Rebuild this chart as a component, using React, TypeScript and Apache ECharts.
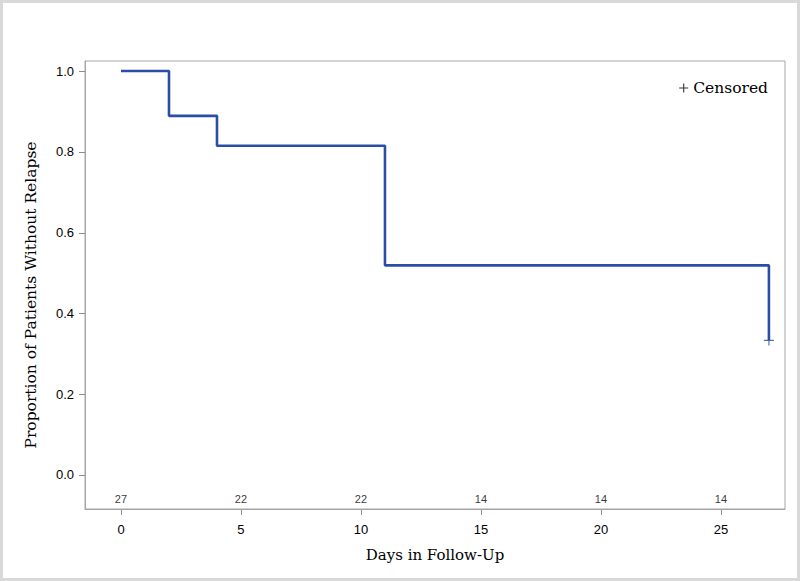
import React, { useEffect, useRef } from "react";
import * as echarts from "echarts";

const eventTimes = [0, 2, 4, 11, 27];
const survival = [1.0, 0.889, 0.815, 0.519, 0.333];
const censoredTimes = [27];
const censoredSurvival = [0.333];
const atRiskTimes = [0, 5, 10, 15, 20, 25];
const atRiskCounts = [27, 22, 22, 14, 14, 14];
const xTicks = [0, 5, 10, 15, 20, 25];
const yTicks = [0, 0.2, 0.4, 0.6, 0.8, 1.0];
const yTitle = "Proportion of Patients Without Relapse";

const BLUE = "#2a4ea6";
const GRAY = "#a6a6a6";
const TICK = "#8c8c8c";
const SERIF = "'DejaVu Serif', serif";
const SANS = "'Liberation Sans', Arial, sans-serif";
const PLUS = "path://M-1,-0.12H1V0.12H-1Z M-0.12,-1H0.12V1H-0.12Z";

const X_MIN = -1.5;
const X_MAX = 27.67;
const Y_MIN = -0.0842;
const Y_MAX = 1.0248;
const TICK_LEN = 6;

export default function App() {
  const ref = useRef<HTMLDivElement>(null);
  useEffect(() => {
    document.body.style.margin = "0";
    const chart = echarts.init(ref.current!, null, { renderer: "svg" });
    const atRiskY = -0.06;
    const baseGraphic: any[] = [
      {
        type: "rect",
        shape: { x: 1.5, y: 1.5, width: 797, height: 578 },
        style: { fill: "none", stroke: "#d9d9d9", lineWidth: 3 },
        silent: true,
      },
      {
        type: "text",
        x: 31,
        y: 295,
        rotation: Math.PI / 2,
        silent: true,
        style: {
          text: yTitle,
          fontFamily: SERIF,
          fontSize: 15.5,
          fill: "#000",
          align: "center",
          verticalAlign: "middle",
        },
      },
    ];
    chart.setOption({
      animation: false,
      backgroundColor: "#ffffff",
      grid: {
        left: 85,
        top: 61,
        right: 15,
        bottom: 72,
        show: true,
        borderColor: GRAY,
        borderWidth: 1,
        containLabel: false,
      },
      graphic: baseGraphic,
      legend: {
        right: 27,
        top: 75,
        itemWidth: 9,
        itemHeight: 9,
        itemGap: 4,
        data: [{ name: "Censored", icon: PLUS, itemStyle: { color: "#000" } }],
        textStyle: { fontFamily: SERIF, fontSize: 15.5, color: "#000" },
      },
      xAxis: {
        type: "value",
        min: X_MIN,
        max: X_MAX,
        name: "Days in Follow-Up",
        nameLocation: "middle",
        nameGap: 38,
        nameTextStyle: { fontFamily: SERIF, fontSize: 15, color: "#000" },
        axisLine: { show: true, onZero: false, lineStyle: { color: GRAY, width: 1 } },
        axisTick: { show: false },
        axisLabel: {
          customValues: xTicks,
          margin: 14,
          fontFamily: SANS,
          fontSize: 13,
          color: "#000",
        },
        splitLine: { show: false },
      },
      yAxis: {
        type: "value",
        min: Y_MIN,
        max: Y_MAX,
        axisLine: { show: true, onZero: false, lineStyle: { color: GRAY, width: 1 } },
        axisTick: { show: false },
        axisLabel: {
          customValues: yTicks,
          margin: 11,
          fontFamily: SANS,
          fontSize: 13,
          color: "#000",
          formatter: (v: number) => v.toFixed(1),
        },
        splitLine: { show: false },
      },
      series: [
        {
          name: "Survival",
          type: "line",
          step: "end",
          showSymbol: false,
          data: eventTimes.map((t, i) => [t, survival[i]]),
          lineStyle: { color: BLUE, width: 2.6 },
          itemStyle: { color: BLUE },
          z: 3,
        },
        {
          name: "Censored",
          type: "scatter",
          symbol: PLUS,
          symbolSize: 10,
          data: censoredTimes.map((t, i) => [t, censoredSurvival[i]]),
          itemStyle: { color: BLUE },
          z: 4,
        },
        {
          name: "At Risk",
          type: "scatter",
          symbolSize: 0,
          silent: true,
          data: atRiskTimes.map((t, i) => [t, atRiskY, atRiskCounts[i]]),
          label: {
            show: true,
            position: "inside",
            formatter: (p: any) => String(p.value[2]),
            fontFamily: SANS,
            fontSize: 11,
            color: "#000",
          },
        },
      ],
    });

    // Tick marks placed through the chart's own scales
    const tickGraphic: any[] = [];
    xTicks.forEach((t) => {
      const p = chart.convertToPixel({ gridIndex: 0 }, [t, Y_MIN]) as number[];
      if (!p) return;
      const x = Math.round(p[0]) + 0.5;
      tickGraphic.push({
        type: "line",
        silent: true,
        shape: { x1: x, y1: p[1], x2: x, y2: p[1] + TICK_LEN },
        style: { stroke: TICK, lineWidth: 1 },
      });
    });
    yTicks.forEach((v) => {
      const p = chart.convertToPixel({ gridIndex: 0 }, [X_MIN, v]) as number[];
      if (!p) return;
      const y = Math.round(p[1]) + 0.5;
      tickGraphic.push({
        type: "line",
        silent: true,
        shape: { x1: p[0] - TICK_LEN, y1: y, x2: p[0], y2: y },
        style: { stroke: TICK, lineWidth: 1 },
      });
    });
    chart.setOption({ graphic: [...baseGraphic, ...tickGraphic] });

    return () => chart.dispose();
  }, []);
  return <div ref={ref} style={{ width: 800, height: 581 }} />;
}
